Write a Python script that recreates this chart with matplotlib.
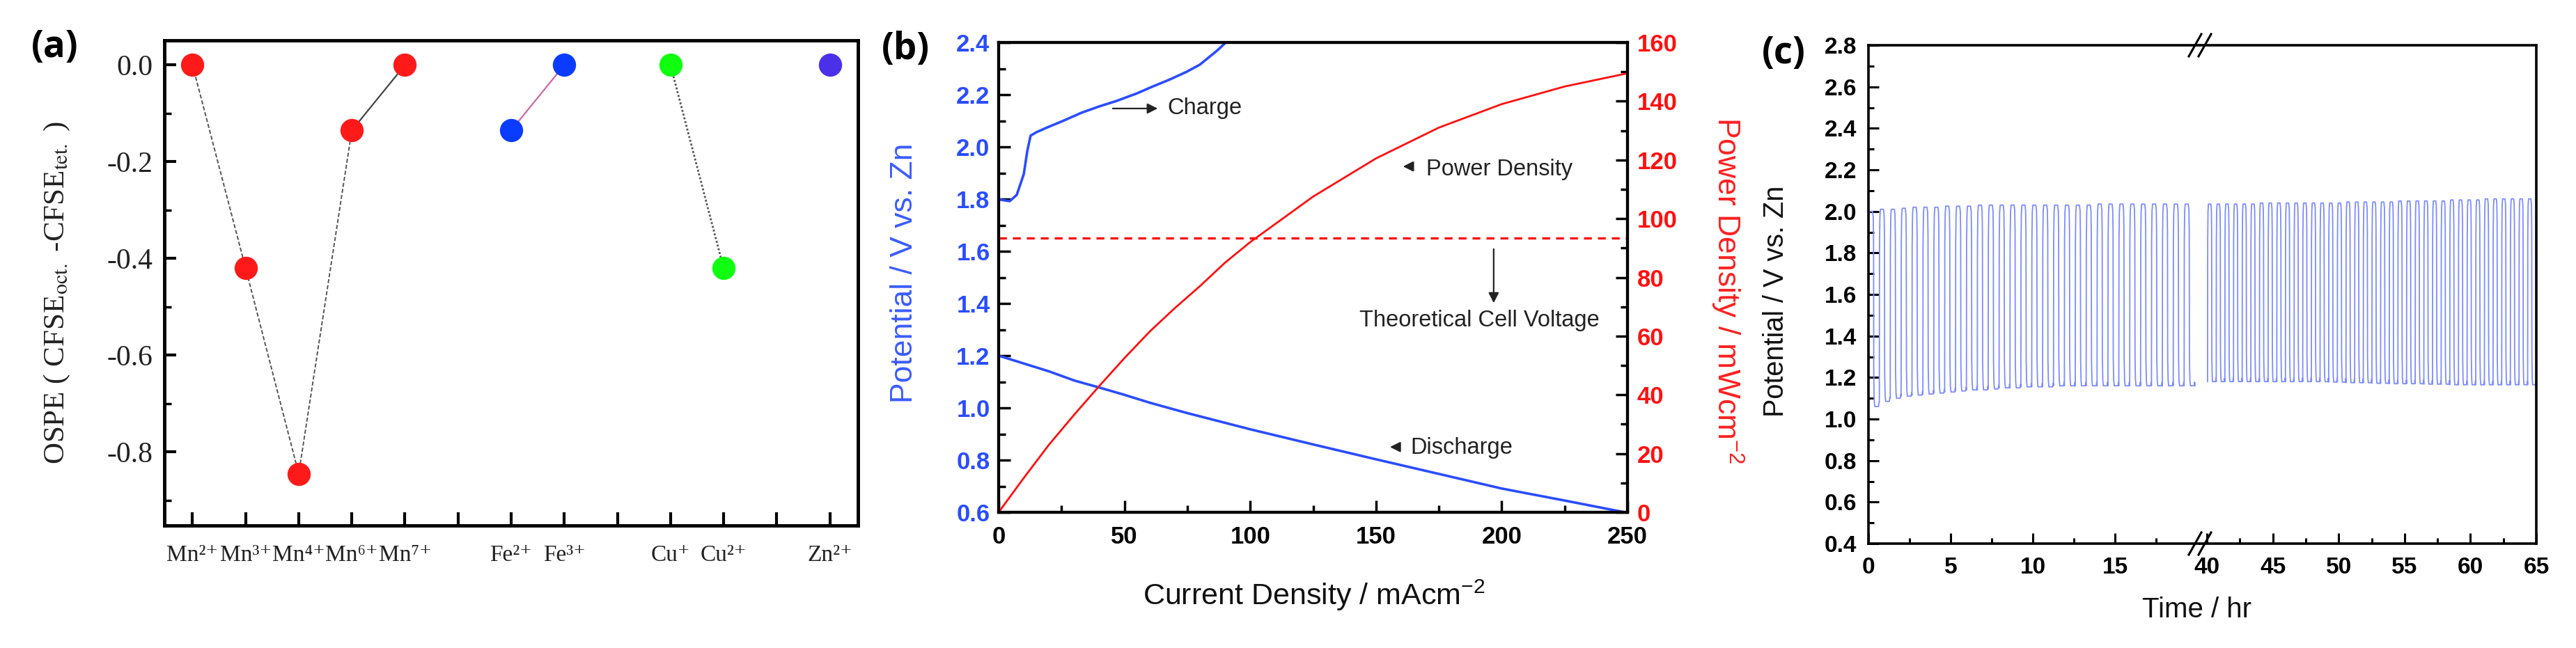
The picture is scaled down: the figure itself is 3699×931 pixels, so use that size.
import numpy as np
import matplotlib
matplotlib.use('Agg')
import matplotlib.pyplot as plt
from matplotlib.lines import Line2D

plt.rcParams['font.family'] = ['Liberation Sans', 'DejaVu Sans']
plt.rcParams['mathtext.fontset'] = 'stix'
plt.rcParams['mathtext.rm'] = 'Liberation Sans'
plt.rcParams['axes.unicode_minus'] = False

# ---------------- data ----------------
# (a) OSPE of the ions, blanks are the empty slots on the axis
ion_labels = ['Mn²⁺', 'Mn³⁺', 'Mn⁴⁺', 'Mn⁶⁺', 'Mn⁷⁺', '',
              'Fe²⁺', 'Fe³⁺', '', 'Cu⁺', 'Cu²⁺', '', 'Zn²⁺']
ion_element = ['Mn', 'Mn', 'Mn', 'Mn', 'Mn', '', 'Fe', 'Fe', '', 'Cu', 'Cu', '', 'Zn']
ospe = [0.0, -0.42, -0.845, -0.135, 0.0, np.nan, -0.135, 0.0, np.nan, 0.0, -0.42, np.nan, 0.0]

# (b) polarisation curves
charge_current = [0, 1, 4.4, 7.2, 10, 11.4, 12.7, 15, 19.2, 25, 33, 40, 46.9, 55, 60.7,
                  68, 74.6, 80, 83.8, 87, 90.3]
charge_voltage = [1.80, 1.797, 1.792, 1.816, 1.896, 1.985, 2.043, 2.056, 2.074, 2.097, 2.131,
                  2.155, 2.176, 2.205, 2.229, 2.258, 2.287, 2.315, 2.345, 2.37, 2.40]
discharge_current = [0, 10, 20, 30, 40, 50, 60, 75, 100, 125, 150, 175, 200, 225, 250]
discharge_voltage = [1.20, 1.17, 1.14, 1.105, 1.078, 1.05, 1.02, 0.98, 0.918, 0.86, 0.803,
                     0.747, 0.691, 0.645, 0.598]
power_current = [0, 10, 20, 30, 40, 50, 60, 70, 80, 90, 100, 125, 150, 175, 200, 225, 250]
power_density = [0, 11.7, 23, 33.2, 43, 52.5, 61.5, 69.5, 77, 85, 92, 107.5, 120.5, 131,
                 139, 145, 149.5]
theoretical_voltage = 1.65

# (c) galvanostatic cycling: upper / lower plateau of each cycle
seg1_start, seg1_end = 0.0, 19.87
seg2_start, seg2_end = 40.05, 65.0
seg1_top = [2.00, 2.01, 2.01, 2.015, 2.02, 2.02, 2.02, 2.025, 2.025, 2.025, 2.03, 2.03, 2.03,
            2.03, 2.03, 2.03, 2.03, 2.03, 2.03, 2.03, 2.03, 2.035, 2.035, 2.035, 2.035, 2.035,
            2.035, 2.035, 2.035, 2.035]
seg1_bottom = [1.06, 1.085, 1.10, 1.11, 1.115, 1.12, 1.125, 1.13, 1.135, 1.14, 1.14, 1.145,
               1.15, 1.15, 1.155, 1.155, 1.155, 1.16, 1.16, 1.16, 1.16, 1.16, 1.16, 1.16, 1.16,
               1.16, 1.16, 1.16, 1.16, 1.16]
seg2_top = [2.035, 2.035, 2.035, 2.035, 2.035, 2.035, 2.04, 2.04, 2.04, 2.04, 2.04, 2.04, 2.04,
            2.04, 2.04, 2.04, 2.045, 2.045, 2.045, 2.045, 2.045, 2.045, 2.05, 2.05, 2.05, 2.05,
            2.05, 2.05, 2.055, 2.055, 2.055, 2.055, 2.06, 2.06, 2.06, 2.06, 2.06, 2.06]
seg2_bottom = [1.18, 1.18, 1.18, 1.18, 1.18, 1.18, 1.18, 1.18, 1.18, 1.18, 1.18, 1.18, 1.18,
               1.18, 1.178, 1.178, 1.175, 1.175, 1.175, 1.172, 1.172, 1.17, 1.17, 1.17, 1.17,
               1.168, 1.168, 1.168, 1.165, 1.165, 1.165, 1.165, 1.165, 1.165, 1.165, 1.165,
               1.165, 1.165]

# ---------------- figure ----------------
W, H = 3699, 931
fig = plt.figure(figsize=(W / 100, H / 100), dpi=100)


def box(l, t, r, b):
    return [l / W, 1 - b / H, (r - l) / W, (b - t) / H]


def fxy(x, y):
    return x / W, 1 - y / H


elem_color = {'Mn': '#ff1a1a', 'Fe': '#0a3cff', 'Cu': '#10ff10', 'Zn': '#4a30e8'}
serif = ['Liberation Serif', 'DejaVu Serif']

# ---------- (a) ----------
axa = fig.add_axes(box(236, 58, 1232, 755))
xa = np.arange(1, len(ion_labels) + 1)
ya = np.array(ospe)
axa.plot(xa[0:4], ya[0:4], ls=(0, (3, 1.5)), color='#555555', lw=1.4, zorder=1)
axa.plot(xa[3:5], ya[3:5], ls='-', color='#444444', lw=1.6, zorder=1)
axa.plot(xa[6:8], ya[6:8], ls='-', color='#cc66aa', lw=1.6, zorder=1)
axa.plot(xa[9:11], ya[9:11], ls=(0, (1, 1)), color='#555555', lw=2.0, zorder=1)
for xi, yi, el in zip(xa, ya, ion_element):
    if el:
        axa.plot(xi, yi, 'o', ms=24, color=elem_color[el], mec='none', zorder=3)
axa.set_xlim(0.47, 13.53)
axa.set_ylim(-0.952, 0.051)
axa.set_xticks(xa, labels=ion_labels, fontsize=24, color='#222222')
yt = [-0.8, -0.6, -0.4, -0.2, 0.0]
axa.set_yticks(yt, labels=[f'{v:.1f}' for v in yt], fontsize=30, color='#222222')
axa.set_yticks([-0.9, -0.7, -0.5, -0.3, -0.1], minor=True)
axa.tick_params(labelfontfamily=serif)
axa.tick_params(axis='x', which='major', direction='in', length=14, width=3, pad=20)
axa.tick_params(axis='y', which='major', direction='in', length=12, width=3, pad=12)
axa.tick_params(axis='y', which='minor', direction='in', length=7, width=2.5)
for s in axa.spines.values():
    s.set_linewidth(3.5)
fig.text(*fxy(82, 421), 'OSPE ( CFSE$_{\\mathrm{oct.}}$ -CFSE$_{\\mathrm{tet.}}$ )',
         rotation=90, ha='center', va='center', fontsize=31, family='Liberation Serif',
         color='#222222')

# ---------- (b) ----------
blue = '#2a4dff'
red = '#ff1010'
axb = fig.add_axes(box(1434, 61, 2337, 736))
axb2 = axb.twinx()
axb.plot(charge_current, charge_voltage, color=blue, lw=2.6)
axb.plot(discharge_current, discharge_voltage, color=blue, lw=2.6)
axb.axhline(theoretical_voltage, color=red, lw=2.4, ls=(0, (3.4, 2.6)))
axb2.plot(power_current, power_density, color=red, lw=2.0)
axb.set_xlim(0, 250)
axb.set_ylim(0.6, 2.4)
axb2.set_ylim(0, 160)
xt = np.arange(0, 251, 50)
axb.set_xticks(xt, labels=[f'{v:d}' for v in xt], fontsize=25, fontweight='bold')
axb.set_xticks(np.arange(25, 250, 50), minor=True)
ybt = np.arange(0.6, 2.41, 0.2)
axb.set_yticks(ybt, labels=[f'{v:.1f}' for v in ybt], fontsize=25, fontweight='bold',
               color=blue)
axb.set_yticks(np.arange(0.7, 2.4, 0.2), minor=True)
yrt = np.arange(0, 161, 20)
axb2.set_yticks(yrt, labels=[f'{v:d}' for v in yrt], fontsize=25, fontweight='bold', color=red)
axb2.set_yticks(np.arange(10, 160, 20), minor=True)
axb.tick_params(axis='x', which='major', direction='in', length=12, width=2.5, pad=14)
axb.tick_params(axis='x', which='minor', direction='in', length=7, width=2.5)
axb.tick_params(axis='y', which='major', direction='in', length=12, width=2.5, pad=9)
axb.tick_params(axis='y', which='minor', direction='in', length=7, width=2.5)
axb2.tick_params(axis='y', which='major', direction='in', length=12, width=2.5, pad=10)
axb2.tick_params(axis='y', which='minor', direction='in', length=7, width=2.5)
for a in (axb, axb2):
    for s in a.spines.values():
        s.set_linewidth(3)

txt = '#222222'
arrow = dict(arrowstyle='-|>', color=txt, lw=1.6, mutation_scale=22)
axb.annotate('', xy=(64, 2.147), xytext=(44.6, 2.147), arrowprops=arrow)
axb.text(67.2, 2.147, 'Charge', fontsize=23.5, color=txt, va='center')
axb.annotate('', xy=(160, 1.925), xytext=(165.5, 1.925), arrowprops=arrow)
axb.text(170, 1.914, 'Power Density', fontsize=23.5, color=txt, va='center')
axb.annotate('', xy=(196.8, 1.394), xytext=(196.8, 1.616), arrowprops=arrow)
axb.text(191, 1.336, 'Theoretical Cell Voltage', fontsize=23.5, color=txt,
         va='center', ha='center')
axb.annotate('', xy=(154.8, 0.85), xytext=(158.8, 0.85), arrowprops=arrow)
axb.text(163.6, 0.847, 'Discharge', fontsize=23.5, color=txt, va='center')

fig.text(*fxy(1299, 392), 'Potential / V vs. Zn', rotation=90, ha='center', va='center',
         fontsize=32, color='#3a5cff')
fig.text(*fxy(2480, 417), 'Power Density / mWcm$^{-2}$', rotation=270, ha='center',
         va='center', fontsize=32, color='#ff2020', math_fontfamily='custom')
fig.text(*fxy(1887, 855), 'Current Density / mAcm$^{-2}$', ha='center', va='center',
         fontsize=31, color='#111111', math_fontfamily='custom')

# ---------- (c) ----------
def cycle_trace(t0, t1, tops, bottoms):
    # one rounded square wave per cycle: charge plateau, then discharge plateau
    frac_t = [0.0, 0.015, 0.05, 0.10, 0.38, 0.44, 0.47, 0.49, 0.53, 0.58, 0.92, 0.97]
    frac_v = [0.0, 0.80, 0.96, 1.0, 1.0, 0.97, 0.85, 0.15, 0.03, 0.0, 0.0, 0.02]
    period = (t1 - t0) / len(tops)
    tt, vv = [], []
    for k, (top, bot) in enumerate(zip(tops, bottoms)):
        for ft, fv in zip(frac_t, frac_v):
            tt.append(t0 + (k + ft) * period)
            vv.append(bot + fv * (top - bot))
    tt.append(t1)
    vv.append(bottoms[-1])
    return tt, vv


cyc = '#7d8cff'
axc1 = fig.add_axes(box(2683, 65, 3159, 781))
axc2 = fig.add_axes(box(3159, 65, 3642, 781))
t1, v1 = cycle_trace(seg1_start, seg1_end, seg1_top, seg1_bottom)
t2, v2 = cycle_trace(seg2_start, seg2_end, seg2_top, seg2_bottom)
axc1.plot(t1, v1, color=cyc, lw=1.3)
axc2.plot(t2, v2, color=cyc, lw=1.3)
axc1.set_xlim(0, 20.17)
axc2.set_xlim(39.47, 65)
for a in (axc1, axc2):
    a.set_ylim(0.4, 2.8)
    for s in a.spines.values():
        s.set_linewidth(2.6)
axc1.spines['right'].set_visible(False)
axc2.spines['left'].set_visible(False)
yct = np.arange(0.4, 2.81, 0.2)
axc1.set_yticks(yct, labels=[f'{v:.1f}' for v in yct], fontsize=24, fontweight='bold')
axc1.set_yticks(np.arange(0.5, 2.8, 0.2), minor=True)
axc2.set_yticks([])
xc1 = np.arange(0, 16, 5)
axc1.set_xticks(xc1, labels=[f'{v:d}' for v in xc1], fontsize=24, fontweight='bold')
axc1.set_xticks(np.arange(2.5, 20, 5), minor=True)
xc2 = np.arange(40, 66, 5)
axc2.set_xticks(xc2, labels=[f'{v:d}' for v in xc2], fontsize=24, fontweight='bold')
axc2.set_xticks(np.arange(42.5, 65, 5), minor=True)
for a in (axc1, axc2):
    a.tick_params(which='major', direction='in', length=11, width=2.2, pad=14)
    a.tick_params(which='minor', direction='in', length=6, width=2.2)
axc1.tick_params(axis='y', which='major', pad=12)

# break marks
for y0 in (65, 781):
    for dx in (-7, 7):
        xs = [(3159 + dx - 9) / W, (3159 + dx + 9) / W]
        ys = [1 - (y0 + 16) / H, 1 - (y0 - 16) / H]
        fig.add_artist(Line2D(xs, ys, color='black', lw=2.2))

fig.text(*fxy(2550, 433), 'Potential / V vs. Zn', rotation=90, ha='center', va='center',
         fontsize=28.5, color='#111111')
fig.text(*fxy(3155, 876), 'Time / hr', ha='center', va='center', fontsize=29,
         color='#111111')

# panel letters
for px, py, lab in ((79, 68, '(a)'), (1300, 71, '(b)'), (2561, 77, '(c)')):
    fig.text(*fxy(px, py), lab, ha='center', va='center', fontsize=38, fontweight='bold',
             family='Open Sans')

fig.savefig('out.png', dpi=100, facecolor='white')
